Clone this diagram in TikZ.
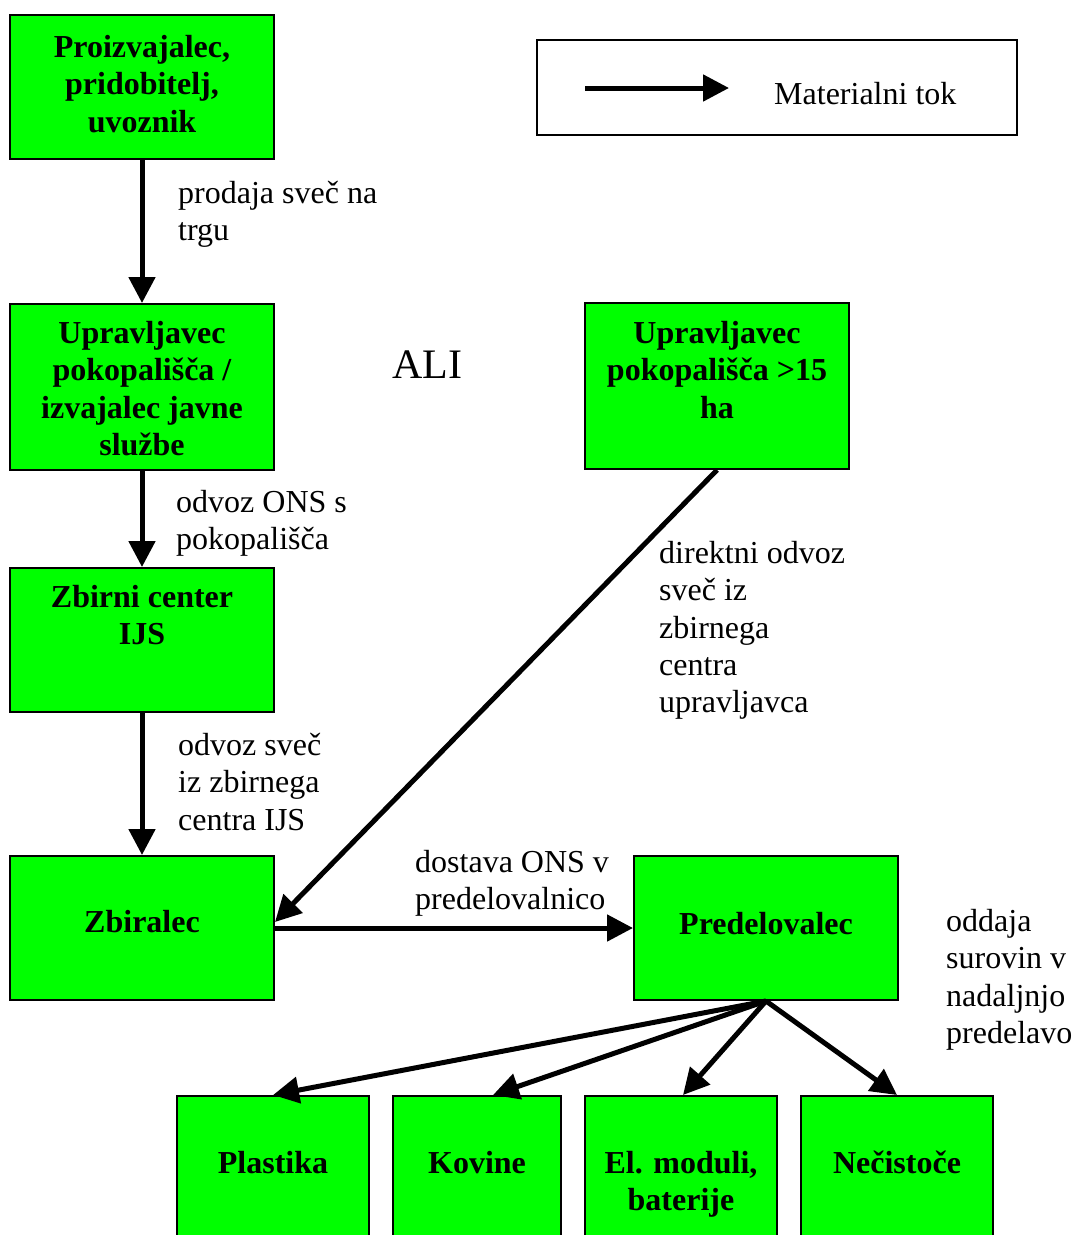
\documentclass[tikz,border=0pt]{standalone}
\usepackage{fontspec}
\setmainfont{Liberation Serif}
\usetikzlibrary{arrows.meta,calc}
\definecolor{boxgreen}{HTML}{00FF00}
\begin{document}
\begin{tikzpicture}[x=1pt,y=-1pt,
  box/.style={rectangle, draw=black, line width=2pt, fill=boxgreen, inner sep=0pt},
  boxtxt/.style={inner sep=0pt, align=center, font=\fontsize{32}{37.3}\selectfont\bfseries},
  lbl/.style={inner sep=0pt, align=left, anchor=north west, font=\fontsize{32}{37.3}\selectfont},
  flow/.style={line width=5pt, -{Triangle[length=26pt,width=26pt]}}
]
\useasboundingbox (0,0) rectangle (1072,1235);

% boxes
\node[box, minimum width=264pt, minimum height=144pt] (A) at (142,87) {};
\node[box, minimum width=264pt, minimum height=166pt] (B) at (142,387) {};
\node[box, minimum width=264pt, minimum height=144pt] (C) at (142,640) {};
\node[box, minimum width=264pt, minimum height=144pt] (D) at (142,928) {};
\node[box, minimum width=264pt, minimum height=166pt] (E) at (717,386) {};
\node[box, minimum width=264pt, minimum height=144pt] (F) at (766,928) {};
\node[box, minimum width=192pt, minimum height=149pt] (P) at (273,1170.5) {};
\node[box, minimum width=168pt, minimum height=149pt] (K) at (477,1170.5) {};
\node[box, minimum width=192pt, minimum height=149pt] (M) at (681,1170.5) {};
\node[box, minimum width=192pt, minimum height=149pt] (N) at (897,1170.5) {};

% box texts
\node[boxtxt, anchor=north] (tA) at (142,35) {Proizvajalec,\\pridobitelj,\\uvoznik};
\node[boxtxt, anchor=north] (tB) at (142,321) {Upravljavec\\pokopališča /\\izvajalec javne\\službe};
\node[boxtxt, anchor=north] (tC) at (142,585) {Zbirni center\\IJS};
\node[boxtxt, anchor=north] (tE) at (717,321) {Upravljavec\\pokopališča >15\\ha};
\node[boxtxt, anchor=base] (tD) at (142,932) {Zbiralec};
\node[boxtxt, anchor=base] (tF) at (766,934) {Predelovalec};
\node[boxtxt, anchor=base] (tP) at (273,1173) {Plastika};
\node[boxtxt, anchor=base] (tK) at (477,1173) {Kovine};
\node[boxtxt, anchor=north] (tM) at (681,1151) {El. moduli,\\baterije};
\node[boxtxt, anchor=base] (tN) at (897,1173) {Nečistoče};

% legend
\node[rectangle, draw=black, line width=2pt, minimum width=480pt, minimum height=95pt, inner sep=0pt] (L) at (777,87.5) {};
\coordinate (la1) at (585,88);
\coordinate (la2) at (729,88);
\draw[flow] (la1) -- (la2);
\node[inner sep=0pt, anchor=base west, font=\fontsize{32}{37.3}\selectfont] (lt) at (774,104) {Materialni tok};

% ALI
\node[inner sep=0pt, anchor=base, font=\fontsize{42}{48}\selectfont] (ali) at (427,378) {ALI};

% connectors
\draw[flow] (A.south) -- (B.north);
\draw[flow] (B.south) -- (C.north);
\draw[flow] (C.south) -- (D.north);
\draw[flow] (E.south) -- ([yshift=6pt]D.east);
\draw[flow] (D.east) -- (F.west);
\draw[flow] (F.south) -- (P.north);
\draw[flow] (F.south) -- ([xshift=16pt]K.north);
\draw[flow] (F.south) -- ([xshift=2pt]M.north);
\draw[flow] (F.south) -- (N.north);

% labels
\node[lbl] (l1) at (178,181) {prodaja sveč na\\trgu};
\node[lbl] (l2) at (176,490) {odvoz ONS s\\pokopališča};
\node[lbl] (l3) at (178,733) {odvoz sveč\\iz zbirnega\\centra IJS};
\node[lbl] (l4) at (659,541) {direktni odvoz\\sveč iz\\zbirnega\\centra\\upravljavca};
\node[lbl] (l5) at (415,850) {dostava ONS v\\predelovalnico};
\node[lbl] (l6) at (946,909) {oddaja\\surovin v\\nadaljnjo\\predelavo};
\end{tikzpicture}
\end{document}
